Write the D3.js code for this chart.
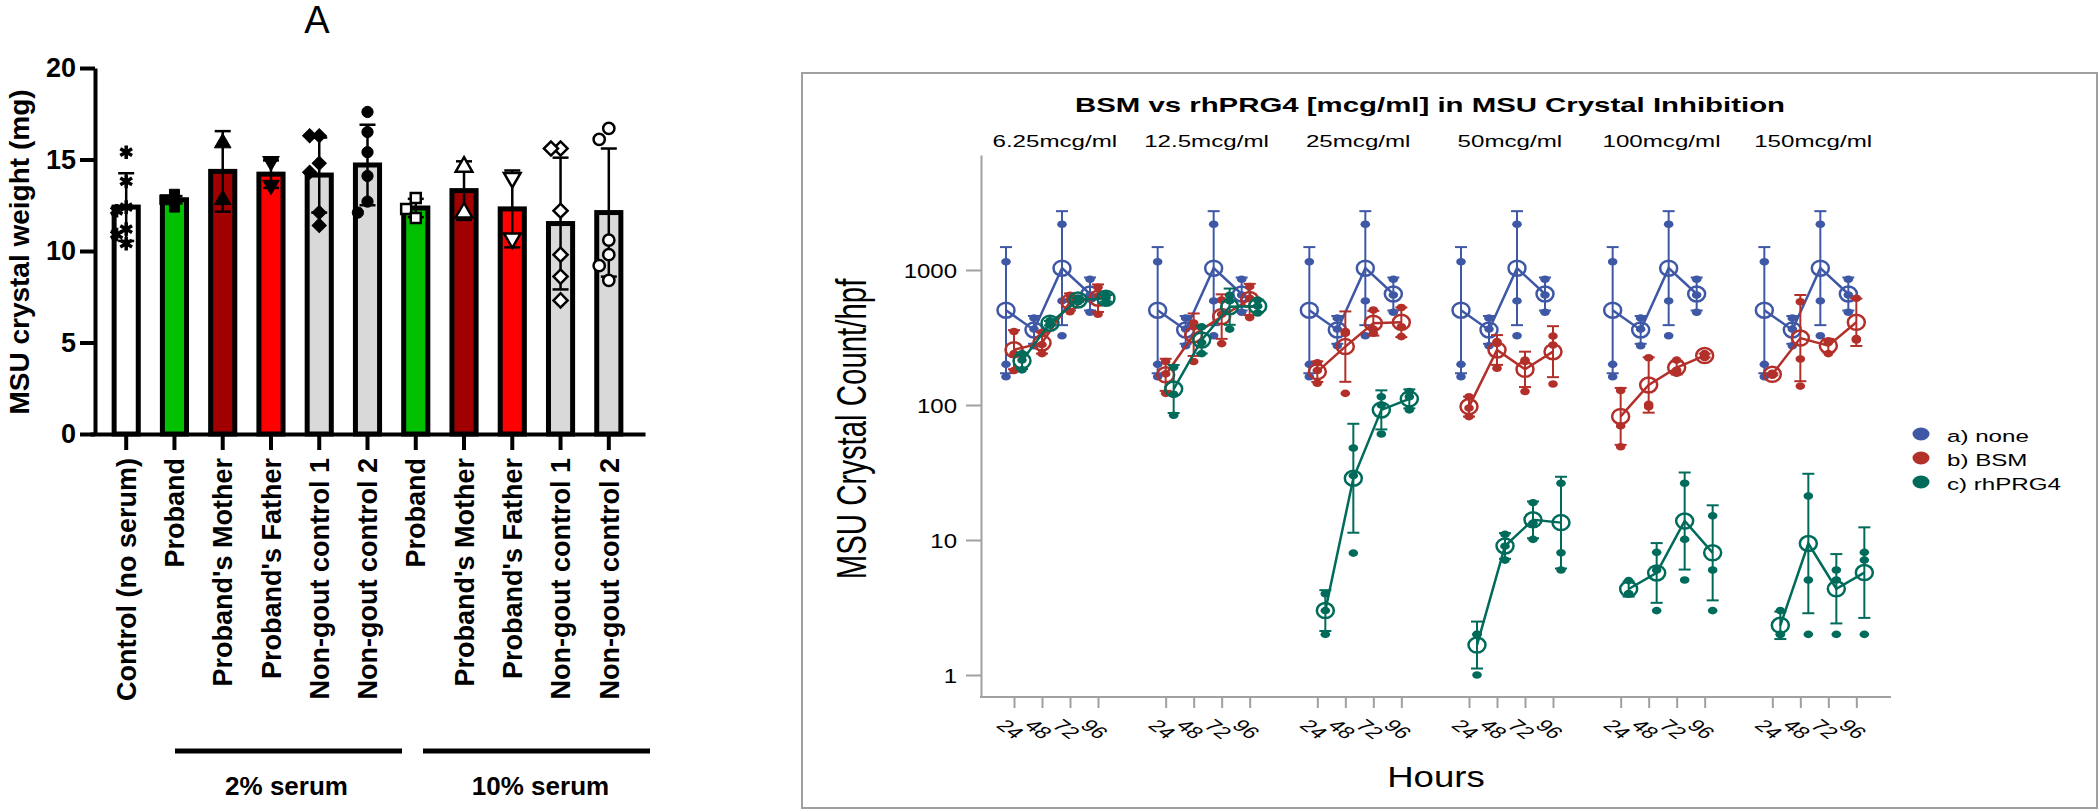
<!DOCTYPE html>
<html>
<head>
<meta charset="utf-8">
<script src="https://cdn.jsdelivr.net/npm/d3@7"></script>
<style>
  body { margin: 0; background: #fff; }
  svg { display: block; font-family: Arial, "Liberation Sans", sans-serif; }
</style>
</head>
<body>
<svg id="fig" width="2100" height="812"></svg>
<script>
// ---------- Panel A data ----------
const groupsA = ["Control (no serum)", "Proband", "Proband's Mother", "Proband's Father",
    "Non-gout control 1", "Non-gout control 2", "Proband", "Proband's Mother",
    "Proband's Father", "Non-gout control 1", "Non-gout control 2"];
const meansA = [12.4, 12.8, 14.35, 14.2, 14.15, 14.7, 12.35, 13.3, 12.3, 11.5, 12.1];
const sdA = [1.85, 0.2, 2.2, 0.75, 2.05, 2.2, 0.5, 1.6, 2.1, 3.6, 3.5];
const pointsA = [
    [15.4, 13.8, 12.4, 12.2, 11.2, 10.9, 10.4],
    [12.4, 12.8, 13.1],
    [15.9, 12.8],
    [14.9, 13.6],
    [16.3, 16.3, 14.8, 14.3, 12.1, 11.4],
    [17.6, 16.5, 15.4, 14.1, 12.7, 12.1],
    [12.9, 12.3, 11.8],
    [14.6, 12.1],
    [14.0, 10.7],
    [15.6, 15.6, 12.2, 9.8, 8.6, 7.3],
    [16.7, 16.1, 10.6, 9.8, 9.2, 8.4]
];
const ticksA = [0, 5, 10, 15, 20];
const serumGroups = ["2% serum", "10% serum"];

// ---------- Panel B data ----------
const concs = ["6.25mcg/ml", "12.5mcg/ml", "25mcg/ml", "50mcg/ml", "100mcg/ml", "150mcg/ml"];
const hours = [24, 48, 72, 96];
const seriesNames = ["a) none", "b) BSM", "c) rhPRG4"];
const ticksB = [1, 10, 100, 1000];
// replicate crystal counts per hour; the untreated control is the same in every panel
const noneCounts = [[1150, 200, 162], [440, 365, 275], [2180, 590, 326], [853, 653, 486]];
const bsmCounts = [
    [[350, 240, 180], [345, 280, 240], [650, 600, 490], [745, 640, 470]],
    [[210, 170, 122], [405, 380, 210], [600, 470, 285], [753, 617, 444]],
    [[205, 180, 145], [350, 340, 122], [505, 365, 340], [528, 380, 321]],
    [[115, 95, 82], [295, 285, 187], [215, 210, 126], [324, 278, 143]],
    [[128, 70, 49], [224, 101, 97], [215, 181, 172], [240, 232, 225]],
    [[172, 168, 166], [582, 219, 138], [295, 290, 240], [617, 310, 303]]
];
const prgCounts = [
    [[240, 215, 182], [420, 400, 390], [620, 600, 580], [650, 620, 580]],
    [[190, 120, 84], [380, 290, 240], [650, 590, 365], [600, 540, 480]],
    [[4, 3, 2], [48, 30, 8], [115, 100, 61], [126, 115, 92]],
    [[2.0, 2.0, 1.0], [11, 9, 7.1], [18.9, 13.3, 10.1], [26.3, 8.05, 6.0]],
    [[5.0, 4.0, 4.0], [8.1, 6.0, 3.0], [26.3, 10.1, 5.06], [15.1, 6.0, 3.0]],
    [[3.0, 2.0, 2.0], [21.2, 5.06, 2.0], [6.0, 5.06, 2.0], [8.1, 7.1, 2.0]]
];

const svg = d3.select('#fig');

// ================= Panel A =================
const barFill = ["#ffffff", "#00c000", "#a00000", "#ff0000", "#d9d9d9", "#d9d9d9",
    "#00c000", "#a00000", "#ff0000", "#d9d9d9", "#d9d9d9"];
const sq = d3.symbolSquare, tri = d3.symbolTriangle, circ = d3.symbolCircle;
const markerA = [
    {sym: d3.symbolAsterisk, open: false, rot: 0, size: 130},
    {sym: sq, open: false, rot: 0, size: 100},
    {sym: tri, open: false, rot: 0, size: 120},
    {sym: tri, open: false, rot: 180, size: 120},
    {sym: sq, open: false, rot: 45, size: 100},
    {sym: circ, open: false, rot: 0, size: 100},
    {sym: sq, open: true, rot: 0, size: 100},
    {sym: tri, open: true, rot: 0, size: 120},
    {sym: tri, open: true, rot: 180, size: 120},
    {sym: sq, open: true, rot: 45, size: 100},
    {sym: circ, open: true, rot: 0, size: 100}
];

const xA = d3.scaleBand().domain(d3.range(groupsA.length)).range([90, 645])
    .paddingInner(0.5).paddingOuter(0.5);
const yA = d3.scaleLinear().domain([0, 20]).range([434, 68]);
const gA = svg.append('g');

// title
gA.append('text').attr('x', 317).attr('y', 33).attr('text-anchor', 'middle')
    .attr('font-size', 38).text('A');

// bars
gA.selectAll('.bar').data(meansA).join('rect')
    .attr('class', 'bar')
    .attr('x', (d, i) => xA(i))
    .attr('width', xA.bandwidth())
    .attr('y', d => yA(d))
    .attr('height', d => yA(0) - yA(d))
    .attr('fill', (d, i) => barFill[i])
    .attr('stroke', '#000')
    .attr('stroke-width', 5);

// error bars (mean +/- SD)
const cx = i => xA(i) + xA.bandwidth() / 2;
const errA = gA.append('g').attr('stroke', '#000').attr('stroke-width', 2.5);
meansA.forEach((m, i) => {
    const lo = yA(m - sdA[i]), hi = yA(m + sdA[i]);
    errA.append('line').attr('x1', cx(i)).attr('x2', cx(i)).attr('y1', lo).attr('y2', hi);
    [lo, hi].forEach(y => errA.append('line')
        .attr('x1', cx(i) - 8).attr('x2', cx(i) + 8).attr('y1', y).attr('y2', y));
});

// simple dodge so overlapping replicate points sit side by side
function dodge(vals, scale, r) {
    const placed = [];
    const order = [0, -1, 1, -2, 2];
    return vals.map(v => {
        const y = scale(v);
        for (const k of order) {
            const dx = k * r * 0.8;
            if (!placed.some(p => Math.abs(p.y - y) < r && Math.abs(p.dx - dx) < r * 0.8)) {
                placed.push({y, dx});
                return dx;
            }
        }
        placed.push({y, dx: 0});
        return 0;
    });
}

pointsA.forEach((vals, i) => {
    const mk = markerA[i];
    const offs = dodge(vals, yA, 12);
    const path = d3.symbol().type(mk.sym).size(mk.size)();
    const star = mk.sym === d3.symbolAsterisk;
    vals.forEach((v, j) => {
        gA.append('path')
            .attr('d', path)
            .attr('transform', `translate(${cx(i) + offs[j]},${yA(v)}) rotate(${mk.rot})`)
            .attr('fill', star ? 'none' : (mk.open ? '#fff' : '#000'))
            .attr('stroke', '#000')
            .attr('stroke-width', star ? 3.5 : (mk.open ? 2.5 : 1));
    });
});

// y axis
gA.append('g').attr('transform', 'translate(95,0)')
    .call(d3.axisLeft(yA).tickValues(ticksA).tickSize(15).tickSizeOuter(0).tickPadding(4))
    .call(g => g.attr('font-family', null).attr('font-size', null))
    .call(g => g.selectAll('path,line').attr('stroke', '#000').attr('stroke-width', 4))
    .call(g => g.selectAll('text').attr('font-size', 27).attr('font-weight', 'bold').attr('fill', '#000'));

// x axis
gA.append('g').attr('transform', 'translate(0,434)')
    .call(d3.axisBottom(xA).tickSize(16).tickSizeOuter(0).tickFormat(i => groupsA[i]))
    .call(g => g.attr('font-family', null).attr('font-size', null))
    .call(g => g.selectAll('path,line').attr('stroke', '#000').attr('stroke-width', 4))
    .call(g => g.selectAll('text')
        .attr('transform', 'rotate(-90)')
        .attr('x', -24).attr('y', 0).attr('dy', '0.36em')
        .attr('text-anchor', 'end')
        .attr('font-size', 27).attr('font-weight', 'bold').attr('fill', '#000'));

gA.append('text')
    .attr('transform', 'translate(29,252) rotate(-90)')
    .attr('text-anchor', 'middle')
    .attr('font-size', 28).attr('font-weight', 'bold')
    .text('MSU crystal weight (mg)');

// serum group brackets
const groupSpan = [[175, 402], [423, 650]];
serumGroups.forEach((s, k) => {
    const [a, b] = groupSpan[k];
    gA.append('line').attr('x1', a).attr('x2', b).attr('y1', 751).attr('y2', 751)
        .attr('stroke', '#000').attr('stroke-width', 5);
    gA.append('text').attr('x', (a + b) / 2 + (k === 0 ? -2 : 4)).attr('y', 795)
        .attr('text-anchor', 'middle').attr('font-size', 26).attr('font-weight', 'bold')
        .text(s);
});

// ================= Panel B =================
const colors = ["#3f58a6", "#b3302a", "#006b5a"];
const seriesDx = [-8, 0, 8];
const gB = svg.append('g');

gB.append('rect').attr('x', 802).attr('y', 73).attr('width', 1295).attr('height', 735)
    .attr('fill', 'none').attr('stroke', '#a0a0a0').attr('stroke-width', 2);

const xFacet = d3.scaleBand().domain(concs).range([981, 1891]);
const xHour = d3.scaleLinear().domain([24, 96]).range([33, 117]);
const yRef = d3.scaleLog().domain([1, 1000]).range([675, 270]);
const yB = d3.scaleLog().domain([yRef.invert(697), yRef.invert(155)]).range([697, 155]);

// horizontally stretched text helper (the plot image is wider than its fonts)
function stext(parent, x, y, str, size, sx, opts = {}) {
    return parent.append('text')
        .attr('transform', `translate(${x},${y}) scale(${sx},1)`)
        .attr('text-anchor', opts.anchor || 'middle')
        .attr('font-size', size)
        .attr('font-weight', opts.bold ? 'bold' : null)
        .attr('fill', '#000')
        .text(str);
}

stext(gB, 1430, 112, 'BSM vs rhPRG4 [mcg/ml] in MSU Crystal Inhibition', 21, 1.4, {bold: true});
concs.forEach(c => stext(gB, xFacet(c) + xFacet.bandwidth() / 2 - 2, 147, c, 17, 1.42));

// y axis
gB.append('g').attr('transform', 'translate(981,0)')
    .call(d3.axisLeft(yB).tickValues(ticksB).tickFormat(d3.format('d')).tickSize(15).tickSizeOuter(0))
    .call(g => g.attr('font-family', null).attr('font-size', null))
    .call(g => g.selectAll('path,line').attr('stroke', '#a0a0a0').attr('stroke-width', 2))
    .call(g => g.selectAll('text').attr('x', -20).attr('dy', '0.36em')
        .attr('font-size', 20).attr('fill', '#000').attr('transform', 'scale(1.2,1)'));

gB.append('line').attr('x1', 980).attr('x2', 1891).attr('y1', 697).attr('y2', 697)
    .attr('stroke', '#a0a0a0').attr('stroke-width', 2);

// x axes per facet
concs.forEach(c => {
    gB.append('g').attr('transform', `translate(${xFacet(c)},697)`)
        .call(d3.axisBottom(xHour).tickValues(hours).tickSize(11).tickSizeOuter(0))
        .call(g => g.attr('font-family', null).attr('font-size', null))
        .call(g => g.select('.domain').remove())
        .call(g => g.selectAll('line').attr('stroke', '#a0a0a0').attr('stroke-width', 2))
        .call(g => g.selectAll('text')
            .attr('y', 0).attr('dy', '0.35em')
            .attr('transform', 'translate(-4,32) scale(1.4,1) rotate(45)')
            .attr('text-anchor', 'middle')
            .attr('font-size', 17).attr('fill', '#000'));
});

stext(gB, 1436, 787, 'Hours', 30, 1.22);
gB.append('text')
    .attr('transform', 'translate(866,429) rotate(-90) scale(0.7,1)')
    .attr('text-anchor', 'middle').attr('font-size', 42)
    .text('MSU Crystal Count/hpf');

// series
const allCounts = [concs.map(() => noneCounts), bsmCounts, prgCounts];
concs.forEach((c, fi) => {
    const fx = xFacet(c);
    allCounts.forEach((counts, si) => {
        const col = colors[si];
        const g = gB.append('g');
        const stats = hours.map((h, hi) => {
            const vals = counts[fi][hi];
            const m = d3.mean(vals);
            const s = d3.deviation(vals.map(Math.log10));
            return {x: fx + xHour(h) + seriesDx[si], vals, m, lo: m / Math.pow(10, s), hi: m * Math.pow(10, s)};
        });
        g.append('path')
            .attr('d', d3.line().x(d => d.x).y(d => yB(d.m))(stats))
            .attr('fill', 'none').attr('stroke', col).attr('stroke-width', 2.5);
        stats.forEach(d => {
            g.append('line').attr('x1', d.x).attr('x2', d.x).attr('y1', yB(d.lo)).attr('y2', yB(d.hi))
                .attr('stroke', col).attr('stroke-width', 2);
            [d.lo, d.hi].forEach(v => g.append('line')
                .attr('x1', d.x - 6).attr('x2', d.x + 6).attr('y1', yB(v)).attr('y2', yB(v))
                .attr('stroke', col).attr('stroke-width', 2));
            d.vals.forEach(v => g.append('ellipse')
                .attr('cx', d.x).attr('cy', yB(v)).attr('rx', 4.8).attr('ry', 3.8)
                .attr('fill', col));
            g.append('ellipse').attr('cx', d.x).attr('cy', yB(d.m)).attr('rx', 8.5).attr('ry', 7.5)
                .attr('fill', 'none').attr('stroke', col).attr('stroke-width', 2.5);
        });
    });
});

// legend
seriesNames.forEach((s, i) => {
    const y = 434 + i * 24;
    gB.append('ellipse').attr('cx', 1921).attr('cy', y).attr('rx', 8.5).attr('ry', 6.5).attr('fill', colors[i]);
    stext(gB, 1947, y + 8, s, 17, 1.42, {anchor: 'start'});
});
</script>
</body>
</html>
